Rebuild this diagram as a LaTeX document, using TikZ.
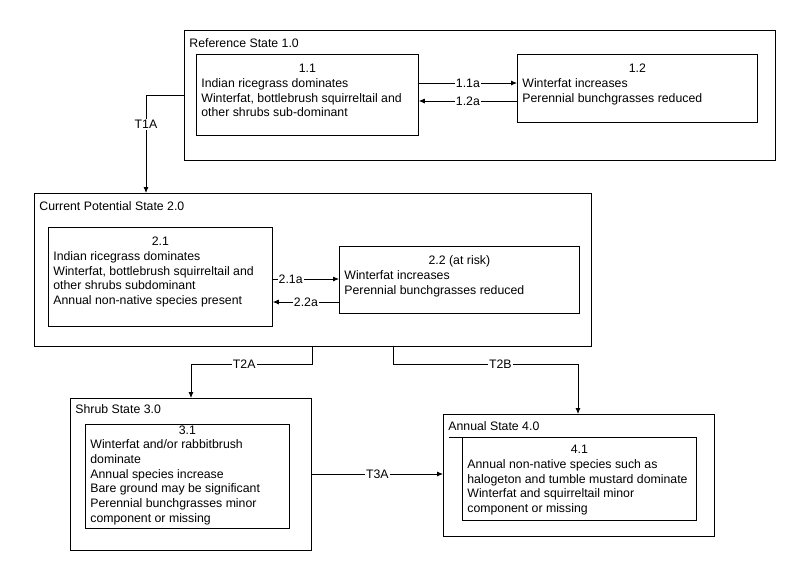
\documentclass[tikz,border=0pt]{standalone}
\usepackage{fontspec}
\setmainfont{Liberation Sans}
\usetikzlibrary{arrows.meta}

\tikzset{
    statebox/.style={draw, line width=0.8pt, anchor=north west, inner xsep=5pt, inner ysep=0pt, font=\fontsize{12.3}{14.7}\selectfont},
    trans/.style={line width=0.8pt, -{Latex[length=6pt,width=5pt]}},
    lbl/.style={fill=white, inner sep=1pt, font=\fontsize{12.3}{14.7}\selectfont}
}
% width, height, first baseline, text
\newcommand{\boxtext}[4]{\parbox[t][#2pt][t]{\dimexpr#1pt-10pt\relax}{\raggedright\rule{0pt}{#3pt}#4}}

\begin{document}
\begin{tikzpicture}[x=1pt,y=-1pt]
    \useasboundingbox (0,0) rectangle (800,571);
    % states
    \node[statebox] (s1) at (184,30) {\boxtext{591}{130}{17.4}{Reference State 1.0}};
    \node[statebox] (s2) at (34,193) {\boxtext{557}{153}{17.4}{Current Potential State 2.0}};
    \node[statebox] (s3) at (70,398) {\boxtext{241}{152}{15.4}{Shrub State 3.0}};
    \node[statebox] (s4) at (443,414) {\boxtext{271}{122}{16.4}{Annual State 4.0}};
    % phases
    \node[statebox] (s11) at (196,54)
    {\boxtext{222}{81}{18.4}{\makebox[\linewidth]{1.1}\\
        Indian ricegrass dominates\\
        Winterfat, bottlebrush squirreltail and\\
        other shrubs sub-dominant}};
    \node[statebox] (s12) at (517,54)
    {\boxtext{240}{68}{18.4}{\makebox[\linewidth]{1.2}\\
        Winterfat increases\\
        Perennial bunchgrasses reduced}};
    \node[statebox] (s21) at (48,227)
    {\boxtext{224}{99}{18.4}{\makebox[\linewidth]{2.1}\\
        Indian ricegrass dominates\\
        Winterfat, bottlebrush squirreltail and\\
        other shrubs subdominant\\
        Annual non-native species present}};
    \node[statebox] (s22) at (339,246)
    {\boxtext{240}{67}{18.4}{\makebox[\linewidth]{2.2 (at risk)}\\
        Winterfat increases\\
        Perennial bunchgrasses reduced}};
    \node[statebox] (s31) at (85,424)
    {\boxtext{204}{104}{9.6}{\makebox[\linewidth]{3.1}\\
        Winterfat and/or rabbitbrush\\
        dominate\\
        Annual species increase\\
        Bare ground may be significant\\
        Perennial bunchgrasses minor\\
        component or missing}};
    \node[statebox] (s41) at (462,437)
    {\boxtext{234}{83}{16.4}{\makebox[\linewidth]{4.1}\\
        Annual non-native species such as\\
        halogeton and tumble mustard dominate\\
        Winterfat and squirreltail minor\\
        component or missing}};
    \draw[line width=0.8pt] (s41.north west) -- ++(-13,0);
    % pathways
    \draw[trans] (s11.east |- 0,83) -- node[lbl] {1.1a} (s12.west |- 0,83);
    \draw[trans] (s12.west |- 0,101) -- node[lbl] {1.2a} (s11.east |- 0,101);
    \draw[trans] (s21.east |- 0,279) -- node[lbl,pos=0.27] {2.1a} (s22.west |- 0,279);
    \draw[trans] (s22.west |- 0,302) -- node[lbl] {2.2a} (s21.east |- 0,302);
    % transitions
    \draw[trans] (s1.west |- 0,95) -| node[lbl,pos=0.65] {T1A} (s2.north -| 146,0);
    \draw[trans] (s2.south -| 312,0) |- node[lbl,pos=0.78] {T2A} (191,364) -- (s3.north -| 191,0);
    \draw[trans] (s2.south -| 393,0) |- node[lbl,pos=0.79] {T2B} (578,364) -- (s4.north -| 578,0);
    \draw[trans] (s3.east |- 0,474) -- node[lbl] {T3A} (s4.west |- 0,474);
\end{tikzpicture}
\end{document}
